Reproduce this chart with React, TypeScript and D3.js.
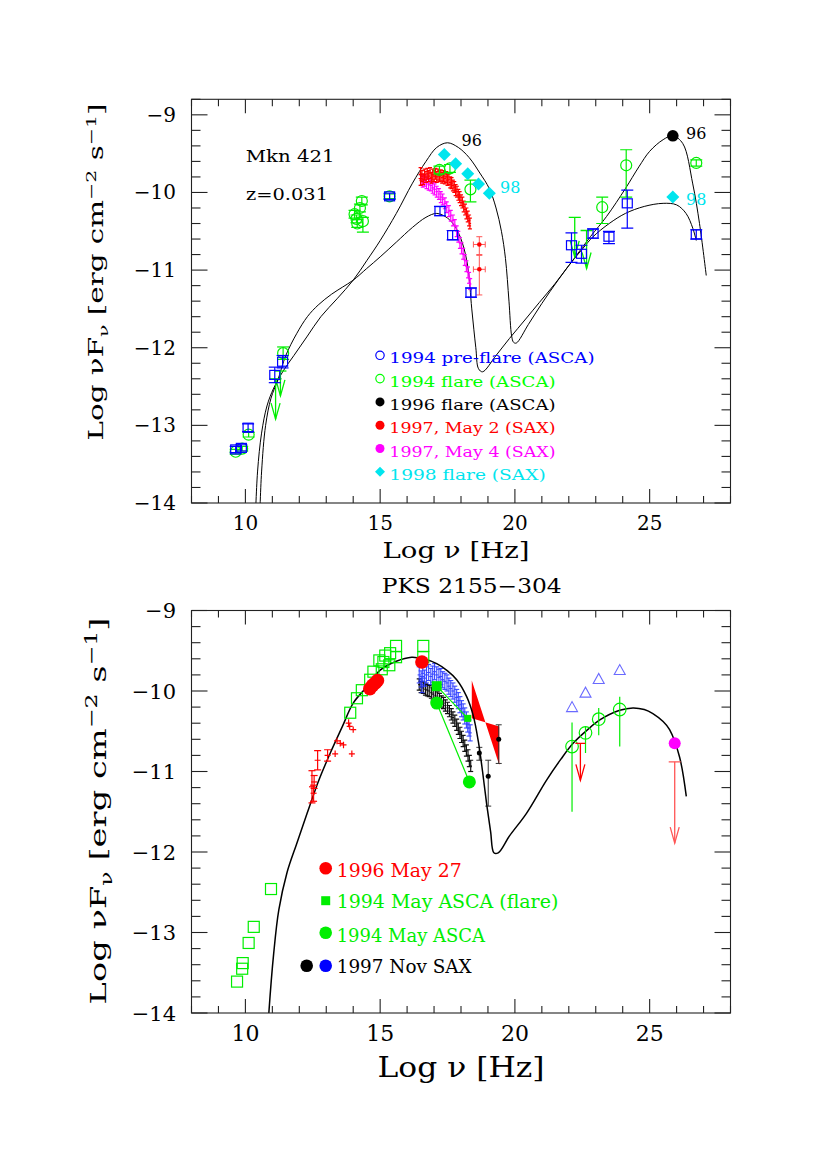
import React from 'react';
import * as d3 from 'd3';

// ---------------- DATA ----------------
// Top panel: Mkn 421. Points are [logNu, logNuFnu, errDown, errUp]
const mknPreFlare = [
  [9.64, -13.31, 0.04, 0.04], [9.85, -13.29, 0.04, 0.04], [10.1, -13.03, 0.05, 0.05],
  [11.09, -12.35, 0.1, 0.1], [11.38, -12.18, 0.08, 0.08], [15.35, -10.05, 0.04, 0.04],
  [17.22, -10.24, 0.06, 0.06], [17.69, -10.55, 0.06, 0.06], [18.37, -11.29, 0.06, 0.06],
  [22.1, -10.68, 0.22, 0.16], [22.47, -10.79, 0.12, 0.11], [22.9, -10.53, 0.06, 0.06],
  [23.49, -10.57, 0.09, 0.07], [24.17, -10.14, 0.32, 0.17], [26.73, -10.54, 0.06, 0.06],
];
const mknFlare94 = [
  [9.64, -13.34, 0.03, 0.03], [9.88, -13.3, 0.03, 0.03], [10.12, -13.12, 0.03, 0.03],
  [11.4, -12.07, 0.08, 0.08], [14.05, -10.28, 0.05, 0.05], [14.12, -10.34, 0.05, 0.05],
  [14.36, -10.37, 0.14, 0.05], [14.25, -10.2, 0.05, 0.05], [14.32, -10.11, 0.05, 0.05],
  [14.15, -10.4, 0.05, 0.05], [15.35, -10.05, 0.03, 0.03], [17.2, -9.71, 0.05, 0.05],
  [17.59, -9.69, 0.05, 0.05], [18.35, -9.96, 0.16, 0.12], [23.24, -10.19, 0.21, 0.13],
  [24.13, -9.65, 0.41, 0.2], [26.73, -9.62, 0.04, 0.04],
];
// upper limits: [logNu, top, arrow tip]
const mknFlare94Limits = [[11.12, -12.4, -12.92], [11.3, -12.3, -12.62], [22.22, -10.32, -10.83], [22.66, -10.49, -10.98]];
const mknFlare96 = [[25.86, -9.27]];
const mknMay2 = [
  [16.5, -9.75], [16.5, -9.84], [16.55, -9.79], [16.6, -9.83], [16.65, -9.77], [16.7, -9.8],
  [16.75, -9.76], [16.8, -9.79], [16.85, -9.75], [16.9, -9.81], [16.95, -9.77], [17.0, -9.79],
  [17.05, -9.76], [17.1, -9.8], [17.15, -9.77], [17.2, -9.79], [17.25, -9.78], [17.3, -9.81],
  [17.35, -9.79], [17.4, -9.82], [17.45, -9.8], [17.5, -9.84], [17.55, -9.83], [17.6, -9.87],
  [17.65, -9.88], [17.7, -9.91], [17.75, -9.93], [17.8, -9.97], [17.85, -9.99], [17.9, -10.03],
  [17.95, -10.06], [18.0, -10.1], [18.05, -10.13], [18.1, -10.18], [18.15, -10.22], [18.2, -10.27],
  [18.25, -10.31], [18.3, -10.36], [18.33, -10.4],
];
const mknMay2Hard = [[18.68, -10.67, 0.13, 0.1], [18.68, -10.99, 0.33, 0.18]];
const mknMay4 = [
  [16.52, -9.84], [16.58, -9.86], [16.65, -9.85], [16.72, -9.88], [16.8, -9.9], [16.88, -9.91],
  [16.95, -9.94], [17.02, -9.96], [17.1, -9.99], [17.18, -10.02], [17.25, -10.06], [17.32, -10.09],
  [17.4, -10.14], [17.47, -10.19], [17.55, -10.24], [17.62, -10.3], [17.7, -10.36], [17.77, -10.42],
  [17.84, -10.5], [17.9, -10.57], [17.96, -10.65], [18.02, -10.72], [18.08, -10.79], [18.14, -10.87],
  [18.2, -10.95], [18.26, -11.03], [18.3, -11.1], [18.34, -11.18],
];
const mknFlare98 = [[17.38, -9.51], [17.8, -9.63], [18.25, -9.76], [18.65, -9.89], [19.05, -10.01], [25.86, -10.06]];
const mknModelFlare = [
  [10.36, -14.3], [10.45, -13.6], [10.6, -13.1], [10.8, -12.75], [11.05, -12.52], [11.4, -12.3],
  [11.8, -12.1], [12.3, -11.85], [12.8, -11.6], [13.4, -11.37], [14.0, -11.13], [14.5, -10.88],
  [15.0, -10.62], [15.6, -10.27], [16.2, -9.88], [16.7, -9.6], [17.1, -9.42], [17.5, -9.36],
  [17.9, -9.42], [18.3, -9.55], [18.7, -9.75], [19.05, -9.95], [19.3, -10.2], [19.5, -10.5],
  [19.65, -10.85], [19.78, -11.4], [19.88, -11.85], [19.95, -11.93], [20.05, -11.94], [20.5, -11.7],
  [21.0, -11.43], [21.6, -11.13], [22.2, -10.85], [22.8, -10.57], [23.4, -10.31], [24.1, -9.95],
  [24.6, -9.67], [25.0, -9.47], [25.5, -9.32], [25.86, -9.27], [26.23, -9.37], [26.6, -9.89],
  [26.85, -10.4], [27.1, -11.07],
];
const mknModelPre = [
  [10.52, -14.3], [10.6, -13.6], [10.75, -13.0], [10.95, -12.65], [11.2, -12.42], [11.5, -12.1],
  [11.9, -11.82], [12.3, -11.6], [12.7, -11.45], [13.2, -11.31], [13.6, -11.22], [14.0, -11.13],
  [14.5, -10.98], [15.0, -10.83], [15.6, -10.64], [16.2, -10.45], [16.7, -10.32], [17.1, -10.27],
  [17.5, -10.33], [17.8, -10.45], [18.05, -10.65], [18.25, -10.95], [18.4, -11.5], [18.55, -12.0],
  [18.65, -12.27], [18.8, -12.31], [19.3, -12.1], [19.8, -11.88], [20.4, -11.63], [20.9, -11.42],
  [21.5, -11.17], [22.0, -10.94], [22.5, -10.73], [22.9, -10.57], [23.5, -10.4], [24.1, -10.27],
  [24.8, -10.18], [25.5, -10.14], [26.0, -10.16], [26.35, -10.27], [26.6, -10.46], [26.73, -10.62],
];

// Bottom panel: PKS 2155-304
const pksArchive = [
  [9.69, -13.61], [9.88, -13.45], [9.9, -13.38], [10.12, -13.13], [10.31, -12.93], [10.95, -12.46],
  [13.89, -10.27], [14.14, -10.09], [14.32, -9.99], [14.63, -9.86], [14.75, -9.76], [14.97, -9.62],
  [15.06, -9.73], [15.12, -9.64], [15.19, -9.56], [15.34, -9.68], [15.37, -9.53], [15.59, -9.58],
  [15.59, -9.44], [16.6, -9.44], [16.6, -9.58],
];
const pksMay96 = [[14.62, -9.97], [14.72, -9.93], [14.82, -9.9], [14.9, -9.87], [16.55, -9.64]];
const pksMay96Bow = [[18.4, -9.87], [19.42, -10.92], [19.42, -10.44], [18.4, -10.34]];
const pksMay96Limits = [[22.43, -10.65, -11.11], [25.93, -10.88, -11.89]];
const pksIR = [
  [12.47, -11.19, 0.2], [12.53, -11.27, 0.1], [12.55, -11.13, 0.08], [12.68, -10.86, 0.12],
  [13.05, -10.8, 0.07], [13.33, -10.78, 0.02], [13.4, -10.62, 0.03], [13.52, -10.65, 0.02],
  [13.64, -10.67, 0.02], [13.83, -10.4, 0.05], [13.87, -10.44, 0.03], [14.0, -10.48, 0.02],
  [13.95, -10.78, 0.0],
];
const pksAscaFlare = [[17.1, -9.94], [18.25, -10.34]];
const pksAsca = [[17.1, -10.15], [18.31, -11.13]];
const pksSaxHigh = [
  [16.45, -9.8], [16.52, -9.85], [16.55, -9.92], [16.58, -9.78], [16.65, -9.84], [16.72, -9.8],
  [16.8, -9.77], [16.88, -9.82], [16.95, -9.79], [17.02, -9.76], [17.1, -9.8], [17.18, -9.83],
  [17.25, -9.82], [17.32, -9.86], [17.4, -9.88], [17.48, -9.9], [17.55, -9.94], [17.62, -9.97],
  [17.7, -10.0], [17.77, -10.04], [17.84, -10.08], [17.9, -10.12], [17.96, -10.17], [18.02, -10.22],
  [18.08, -10.26], [18.14, -10.31], [18.2, -10.36], [18.25, -10.41], [18.3, -10.46], [18.34, -10.52],
];
const pksSaxLow = [
  [16.45, -9.92], [16.52, -9.95], [16.6, -9.96], [16.68, -9.98], [16.75, -9.99], [16.82, -10.0],
  [16.9, -10.02], [16.97, -10.04], [17.05, -10.06], [17.12, -10.08], [17.2, -10.1], [17.27, -10.13],
  [17.35, -10.15], [17.42, -10.18], [17.5, -10.21], [17.57, -10.25], [17.64, -10.29], [17.7, -10.33],
  [17.77, -10.37], [17.84, -10.42], [17.9, -10.47], [17.96, -10.52], [18.02, -10.57], [18.08, -10.62],
  [18.14, -10.68], [18.2, -10.74], [18.26, -10.8], [18.31, -10.87], [18.36, -10.93],
];
const pksSaxHard = [[18.68, -10.77, 0.09, 0.07], [19.01, -11.06, 0.37, 0.2], [19.4, -10.6, 0.3, 0.18]];
const pksEgret = [[22.12, -10.2], [22.62, -10.02], [23.11, -9.85], [23.89, -9.74]];
const pksGamma = [
  [22.12, -10.69, 0.81, 0.3], [22.62, -10.52, 0.25, 0.08], [23.11, -10.35, 0.2, 0.14], [23.89, -10.23, 0.46, 0.16],
];
const pksTeV = [[25.93, -10.65]];
const pksModel = [
  [10.8, -14.4], [10.87, -14.0], [11.05, -13.26], [11.24, -12.72], [11.54, -12.26], [11.9, -11.9],
  [12.29, -11.52], [12.7, -11.13], [13.15, -10.77], [13.6, -10.44], [14.0, -10.15], [14.5, -9.95],
  [15.0, -9.74], [15.6, -9.63], [16.17, -9.58], [16.6, -9.6], [17.1, -9.66], [17.5, -9.75],
  [17.84, -9.86], [18.21, -10.07], [18.45, -10.3], [18.64, -10.62], [18.8, -11.0], [18.95, -11.4],
  [19.1, -11.75], [19.22, -12.01], [19.38, -12.01], [19.8, -11.8], [20.43, -11.52], [21.17, -11.11],
  [21.7, -10.85], [22.16, -10.65], [22.7, -10.48], [23.15, -10.36], [23.89, -10.24], [24.38, -10.21],
  [24.8, -10.23], [25.12, -10.28], [25.5, -10.38], [25.74, -10.48], [26.11, -10.82], [26.36, -11.31],
];

const xMajorTicks = [10, 15, 20, 25];
const yMajorTicks = [-9, -10, -11, -12, -13, -14];
const mknLegend = [
  { label: '1994 pre-flare (ASCA)', color: '#0000ff', sym: 'ocircle' },
  { label: '1994 flare (ASCA)', color: '#00ff00', sym: 'ocircle' },
  { label: '1996 flare (ASCA)', color: '#000000', sym: 'fcircle' },
  { label: '1997, May 2 (SAX)', color: '#ff0000', sym: 'fcircle' },
  { label: '1997, May 4 (SAX)', color: '#ff00ff', sym: 'fcircle' },
  { label: '1998 flare (SAX)', color: '#00e5ee', sym: 'diamond' },
];
const pksLegend = [
  { label: '1996 May 27', color: '#ff0000' },
  { label: '1994 May ASCA (flare)', color: '#00ee00' },
  { label: '1994 May ASCA', color: '#00ee00' },
  { label: '1997 Nov SAX', color: '#000000' },
];

// ---------------- LAYOUT ----------------
const FONT = 'DejaVu Serif';
const GREEN = '#00ee00';
const BLUE = '#0000ff';
const RED = '#ff0000';
const MAG = '#ff00ff';
const CYAN = '#00e5ee';

const x = d3.scaleLinear().domain([8, 28]).range([191.5, 730.5]);
const yTop = d3.scaleLinear().domain([-14, -8.8]).range([503, 99.3]);
const yBot = d3.scaleLinear().domain([-14, -9]).range([1013, 610.5]);

function Frame({ y, top, bottom }) {
  const l = x.range()[0], r = x.range()[1];
  const els = [];
  for (let v = 8; v <= 28; v++) {
    const major = v % 5 === 0;
    const len = major ? 14 : 7;
    els.push(<line key={'xb' + v} x1={x(v)} x2={x(v)} y1={bottom} y2={bottom - len} />);
    els.push(<line key={'xt' + v} x1={x(v)} x2={x(v)} y1={top} y2={top + len} />);
  }
  const [d0, d1] = y.domain();
  for (let k = Math.ceil(d0 * 5 - 1e-6); k <= Math.floor(d1 * 5 + 1e-6); k++) {
    const v = k / 5;
    const major = Math.abs(v - Math.round(v)) < 1e-6;
    const len = major ? 16 : 9;
    els.push(<line key={'yl' + k} x1={l} x2={l + len} y1={y(v)} y2={y(v)} />);
    els.push(<line key={'yr' + k} x1={r} x2={r - len} y1={y(v)} y2={y(v)} />);
  }
  return (
    <g stroke="#222" strokeWidth={1.1} fill="none">
      <rect x={l} y={top} width={r - l} height={bottom - top} />
      {els}
    </g>
  );
}

function ErrV({ cx, y, v, lo, hi, color, cap = 6, w = 1.2 }) {
  const y1 = y(v + hi), y2 = y(v - lo);
  return (
    <g stroke={color} strokeWidth={w}>
      <line x1={cx} x2={cx} y1={y1} y2={y2} />
      <line x1={cx - cap} x2={cx + cap} y1={y1} y2={y1} />
      <line x1={cx - cap} x2={cx + cap} y1={y2} y2={y2} />
    </g>
  );
}

function Limit({ cx, y, top, tip, color, cap = 7, w = 1.3 }) {
  const yt = y(top), yp = y(tip);
  return (
    <g stroke={color} strokeWidth={w} fill="none">
      <line x1={cx - cap} x2={cx + cap} y1={yt} y2={yt} />
      <line x1={cx} x2={cx} y1={yt} y2={yp} />
      <polyline points={`${cx - 4.5},${yp - 16} ${cx},${yp} ${cx + 4.5},${yp - 16}`} />
    </g>
  );
}

function Diamond({ cx, cy, r, color }) {
  return <polygon points={`${cx},${cy - r} ${cx + r},${cy} ${cx},${cy + r} ${cx - r},${cy}`} fill={color} />;
}

function Band({ data, y, color, dx = 0.04, dy = 0.05, w = 1, opacity = 1, cap = 0 }) {
  return (
    <g stroke={color} strokeWidth={w} opacity={opacity}>
      {data.map((d, i) => {
        const cx = x(d[0]);
        const y1 = y(d[1] + dy), y2 = y(d[1] - dy);
        return (
          <g key={i}>
            <line x1={x(d[0] - dx)} x2={x(d[0] + dx)} y1={y(d[1])} y2={y(d[1])} />
            <line x1={cx} x2={cx} y1={y1} y2={y2} />
            {cap > 0 && <line x1={cx - cap} x2={cx + cap} y1={y1} y2={y1} />}
            {cap > 0 && <line x1={cx - cap} x2={cx + cap} y1={y2} y2={y2} />}
          </g>
        );
      })}
    </g>
  );
}

function YLabel({ cx, cy, size, len }) {
  return (
    <text transform={`translate(${cx},${cy}) rotate(-90)`} textAnchor="middle" fontFamily={FONT} fontSize={size}
      fill="#000" textLength={len} lengthAdjust="spacingAndGlyphs">
      Log νF<tspan fontSize={size * 0.7} dy={size * 0.25}>ν</tspan>
      <tspan dy={-size * 0.25}> [erg cm</tspan>
      <tspan fontSize={size * 0.7} dy={-size * 0.38}>−2</tspan>
      <tspan dy={size * 0.38}> s</tspan>
      <tspan fontSize={size * 0.7} dy={-size * 0.38}>−1</tspan>
      <tspan dy={size * 0.38}>]</tspan>
    </text>
  );
}

export default function App() {
  const line = (y) => d3.line().x((d) => x(d[0])).y((d) => y(d[1])).curve(d3.curveCatmullRom.alpha(0.5));

  return (
    <svg width={817} height={1155} viewBox="0 0 817 1155"
      style={{ position: 'absolute', left: 0, top: 0, background: '#fff' }}
      xmlns="http://www.w3.org/2000/svg">
      <defs>
        <clipPath id="clipTop"><rect x={191.5} y={99.3} width={539} height={403.7} /></clipPath>
        <clipPath id="clipBot"><rect x={191.5} y={610.5} width={539} height={402.5} /></clipPath>
      </defs>
      <rect x={0} y={0} width={817} height={1155} fill="#fff" />

      {/* ================= TOP PANEL ================= */}
      <g clipPath="url(#clipTop)">
        <path d={line(yTop)(mknModelFlare)} fill="none" stroke="#000" strokeWidth={1} />
        <path d={line(yTop)(mknModelPre)} fill="none" stroke="#000" strokeWidth={1} />

        <Band data={mknMay4} y={yTop} color={MAG} dx={0.045} dy={0.07} w={1.2} cap={2} />
        <Band data={mknMay2} y={yTop} color={RED} dx={0.045} dy={0.07} w={1.2} cap={2} />
        {mknMay2Hard.map((d, i) => (
          <g key={'h' + i} stroke="#ff5555" strokeWidth={1}>
            <line x1={x(d[0] - 0.22)} x2={x(d[0] + 0.22)} y1={yTop(d[1])} y2={yTop(d[1])} />
            <ErrV cx={x(d[0])} y={yTop} v={d[1]} lo={d[2]} hi={d[3]} color="#ff5555" cap={0} w={1} />
            <line x1={x(d[0] - 0.22)} x2={x(d[0] - 0.22)} y1={yTop(d[1]) - 3} y2={yTop(d[1]) + 3} />
            <line x1={x(d[0] + 0.22)} x2={x(d[0] + 0.22)} y1={yTop(d[1]) - 3} y2={yTop(d[1]) + 3} />
            <line x1={x(d[0]) - 3} x2={x(d[0]) + 3} y1={yTop(d[1] + d[3])} y2={yTop(d[1] + d[3])} />
            <line x1={x(d[0]) - 3} x2={x(d[0]) + 3} y1={yTop(d[1] - d[2])} y2={yTop(d[1] - d[2])} />
            <circle cx={x(d[0])} cy={yTop(d[1])} r={2.3} fill={RED} stroke="none" />
          </g>
        ))}

        {mknFlare94.map((d, i) => (
          <g key={'g' + i}>
            <ErrV cx={x(d[0])} y={yTop} v={d[1]} lo={d[2]} hi={d[3]} color={GREEN} cap={6} />
            <circle cx={x(d[0])} cy={yTop(d[1])} r={5.5} fill="none" stroke={GREEN} strokeWidth={1.2} />
          </g>
        ))}
        {mknFlare94Limits.map((d, i) => (
          <Limit key={'gl' + i} cx={x(d[0])} y={yTop} top={d[1]} tip={d[2]} color={GREEN} cap={6} />
        ))}
        {mknPreFlare.map((d, i) => (
          <g key={'b' + i}>
            <ErrV cx={x(d[0])} y={yTop} v={d[1]} lo={d[2]} hi={d[3]} color={BLUE} cap={6} />
            <rect x={x(d[0]) - 5} y={yTop(d[1]) - 4.5} width={10} height={9} fill="none" stroke={BLUE} strokeWidth={1.2} />
          </g>
        ))}
        {mknFlare98.map((d, i) => (
          <Diamond key={'c' + i} cx={x(d[0])} cy={yTop(d[1])} r={6.5} color={CYAN} />
        ))}
        {mknFlare96.map((d, i) => (
          <circle key={'k' + i} cx={x(d[0])} cy={yTop(d[1])} r={5.8} fill="#000" />
        ))}
      </g>

      <Frame y={yTop} top={99.3} bottom={503} />

      {/* annotations */}
      <g fontFamily={FONT} fontSize={17}>
        <text x={245.7} y={161.7} textLength={89} lengthAdjust="spacingAndGlyphs">Mkn 421</text>
        <text x={246} y={200} textLength={82} lengthAdjust="spacingAndGlyphs">z=0.031</text>
        <text x={461.5} y={146} fontSize={16}>96</text>
        <text x={500} y={193} fontSize={16} fill={CYAN}>98</text>
        <text x={686} y={138.5} fontSize={16}>96</text>
        <text x={686} y={204.5} fontSize={16} fill={CYAN}>98</text>
      </g>

      {/* top legend */}
      <g fontFamily={FONT} fontSize={15.5}>
        {mknLegend.map((e, i) => {
          const by = 363.3 + i * 23.3;
          const sy = by - 8;
          let sym;
          if (e.sym === 'ocircle') sym = <circle cx={380} cy={sy} r={4.2} fill="none" stroke={e.color} strokeWidth={1.2} />;
          else if (e.sym === 'fcircle') sym = <circle cx={380} cy={sy} r={4.5} fill={e.color} />;
          else sym = <Diamond cx={380} cy={sy} r={5} color={e.color} />;
          return (
            <g key={i}>
              {sym}
              <text x={389.3} y={by} fill={e.color} textLength={e.label.length * 9.78} lengthAdjust="spacingAndGlyphs">{e.label}</text>
            </g>
          );
        })}
      </g>

      {/* top axes labels */}
      <g fontFamily={FONT} fontSize={20} fill="#000">
        {yMajorTicks.map((v) => (
          <text key={'ty' + v} x={176} y={yTop(v) + 7} textAnchor="end">{'\u2212' + Math.abs(v)}</text>
        ))}
        {xMajorTicks.map((v) => (
          <text key={'tx' + v} x={x(v)} y={530} textAnchor="middle">{v}</text>
        ))}
        <text x={456} y={558} textAnchor="middle" fontSize={22} textLength={147} lengthAdjust="spacingAndGlyphs">Log ν  [Hz]</text>
      </g>
      <YLabel cx={103} cy={272} size={19.5} len={337} />

      {/* ================= BOTTOM PANEL ================= */}
      <text x={471.7} y={593} textAnchor="middle" fontFamily={FONT} fontSize={20} textLength={180} lengthAdjust="spacingAndGlyphs">PKS 2155−304</text>

      <g clipPath="url(#clipBot)">
        <Band data={pksSaxLow} y={yBot} color="#111" dx={0.04} dy={0.07} w={1.2} cap={2.5} />
        <Band data={pksSaxHigh} y={yBot} color="#2233ff" dx={0.06} dy={0.1} w={1.1} cap={2.5} opacity={0.9} />
        <polygon points={pksMay96Bow.map((d) => `${x(d[0])},${yBot(d[1])}`).join(' ')} fill={RED} fillRule="nonzero" />
        {pksSaxHard.map((d, i) => (
          <g key={'sh' + i}>
            <ErrV cx={x(d[0])} y={yBot} v={d[1]} lo={d[2]} hi={d[3]} color="#333" cap={3} w={1} />
            <circle cx={x(d[0])} cy={yBot(d[1])} r={2.5} fill="#000" />
          </g>
        ))}
        <path d={line(yBot)(pksModel)} fill="none" stroke="#000" strokeWidth={1.5} />

        {pksIR.map((d, i) => (
          <g key={'ir' + i} stroke={RED} strokeWidth={1.2}>
            <line x1={x(d[0]) - 3} x2={x(d[0]) + 3} y1={yBot(d[1])} y2={yBot(d[1])} />
            <line x1={x(d[0])} x2={x(d[0])} y1={yBot(d[1] + Math.max(d[2], 0.04))} y2={yBot(d[1] - Math.max(d[2], 0.04))} />
            {d[2] > 0.05 && <line x1={x(d[0]) - 3.5} x2={x(d[0]) + 3.5} y1={yBot(d[1] + d[2])} y2={yBot(d[1] + d[2])} />}
            {d[2] > 0.05 && <line x1={x(d[0]) - 3.5} x2={x(d[0]) + 3.5} y1={yBot(d[1] - d[2])} y2={yBot(d[1] - d[2])} />}
          </g>
        ))}
        {pksArchive.map((d, i) => (
          <rect key={'a' + i} x={x(d[0]) - 5.5} y={yBot(d[1]) - 5.5} width={11} height={11} fill="none" stroke={GREEN} strokeWidth={1.2} />
        ))}
        <path d={d3.line()(pksAscaFlare.map((d) => [x(d[0]), yBot(d[1])]))} stroke={GREEN} strokeWidth={1.2} fill="none" />
        <path d={d3.line()(pksAsca.map((d) => [x(d[0]), yBot(d[1])]))} stroke={GREEN} strokeWidth={1.2} fill="none" />
        {pksAscaFlare.map((d, i) => (
          <rect key={'af' + i} x={x(d[0]) - (i ? 3.5 : 5)} y={yBot(d[1]) - (i ? 3.5 : 5)} width={i ? 7 : 10} height={i ? 7 : 10} fill={GREEN} />
        ))}
        {pksAsca.map((d, i) => (
          <circle key={'as' + i} cx={x(d[0])} cy={yBot(d[1])} r={6.5} fill={GREEN} />
        ))}
        {pksMay96.map((d, i) => (
          <circle key={'r' + i} cx={x(d[0])} cy={yBot(d[1])} r={6.8} fill={RED} />
        ))}
        {pksEgret.map((d, i) => {
          const cx = x(d[0]), cy = yBot(d[1]);
          return <polygon key={'e' + i} points={`${cx - 5.5},${cy + 4.5} ${cx + 5.5},${cy + 4.5} ${cx},${cy - 5.5}`} fill="none" stroke="#6a6aff" strokeWidth={1.1} />;
        })}
        {pksGamma.map((d, i) => (
          <g key={'gm' + i}>
            <line x1={x(d[0])} x2={x(d[0])} y1={yBot(d[1] + d[3])} y2={yBot(d[1] - d[2])} stroke={GREEN} strokeWidth={1.2} />
            <circle cx={x(d[0])} cy={yBot(d[1])} r={6.3} fill="none" stroke={GREEN} strokeWidth={1.2} />
          </g>
        ))}
        <Limit cx={x(pksMay96Limits[0][0])} y={yBot} top={pksMay96Limits[0][1]} tip={pksMay96Limits[0][2]} color={RED} cap={5} />
        <Limit cx={x(pksMay96Limits[1][0])} y={yBot} top={pksMay96Limits[1][1]} tip={pksMay96Limits[1][2]} color="#ff5555" cap={6} />
        {pksTeV.map((d, i) => (
          <circle key={'t' + i} cx={x(d[0])} cy={yBot(d[1])} r={6} fill={MAG} />
        ))}
      </g>

      <Frame y={yBot} top={610.5} bottom={1013} />

      {/* bottom legend */}
      <g fontFamily={FONT} fontSize={19}>
        <circle cx={325.7} cy={868.3} r={6.3} fill={RED} />
        <rect x={321.2} y={896.2} width={9} height={9} fill={GREEN} />
        <circle cx={325.7} cy={932.7} r={6.3} fill={GREEN} />
        <circle cx={306.7} cy={965.7} r={6.3} fill="#000" />
        <circle cx={325.7} cy={965.7} r={6.3} fill={BLUE} />
        {pksLegend.map((e, i) => {
          const by = [876.7, 908.3, 941.7, 973.3][i];
          const lens = [125, 221.6, 148.3, 135];
          return (
            <text key={i} x={336.7} y={by} fill={e.color} textLength={lens[i]} lengthAdjust="spacingAndGlyphs">{e.label}</text>
          );
        })}
      </g>

      {/* bottom axes labels */}
      <g fontFamily={FONT} fontSize={21} fill="#000">
        {yMajorTicks.map((v) => (
          <text key={'by' + v} x={176} y={yBot(v) + 7.5} textAnchor="end">{'\u2212' + Math.abs(v)}</text>
        ))}
        {xMajorTicks.map((v) => (
          <text key={'bx' + v} x={x(v)} y={1041} textAnchor="middle" fontSize={22}>{v}</text>
        ))}
        <text x={461} y={1077} textAnchor="middle" fontSize={27} textLength={167} lengthAdjust="spacingAndGlyphs">Log ν  [Hz]</text>
      </g>
      <YLabel cx={106} cy={811} size={23} len={387} />
    </svg>
  );
}
